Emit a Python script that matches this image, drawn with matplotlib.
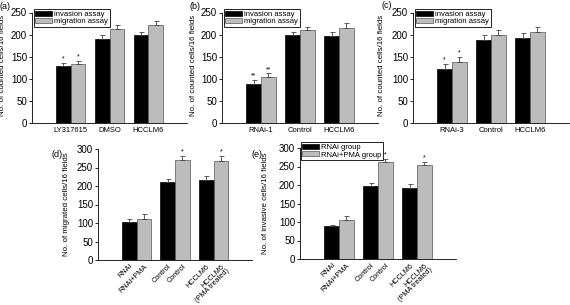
import numpy as np
import matplotlib
matplotlib.use("Agg")
import matplotlib.pyplot as plt

plt.rcParams['font.family'] = ['Liberation Sans', 'DejaVu Sans']
plt.rcParams['font.size'] = 5.5

# (a)-(c): invasion / migration assays
groups_a = ["LY317615", "DMSO", "HCCLM6"]
a_inv = [128, 191, 198]
a_inv_err = [7, 9, 8]
a_mig = [133, 212, 221]
a_mig_err = [7, 10, 9]

groups_b = ["RNAi-1", "Control", "HCCLM6"]
b_inv = [89, 198, 197]
b_inv_err = [9, 9, 9]
b_mig = [104, 210, 216]
b_mig_err = [8, 8, 10]

groups_c = ["RNAi-3", "Control", "HCCLM6"]
c_inv = [123, 188, 193]
c_inv_err = [10, 12, 10]
c_mig = [138, 200, 207]
c_mig_err = [12, 11, 11]

# (d)-(e): RNAi group vs RNAi+PMA group
labels_de = ["RNAi", "RNAi+PMA", "Control", "Control", "HCCLM6", "HCCLM6\n(PMA treated)"]
d_rnai = [102, 210, 216]
d_rnai_err = [9, 8, 10]
d_pma = [111, 270, 268]
d_pma_err = [12, 12, 13]

e_rnai = [88, 196, 193]
e_rnai_err = [5, 10, 10]
e_pma = [105, 262, 255]
e_pma_err = [11, 8, 7]

BLACK = "black"
GRAY = "#bcbcbc"
W = 0.38

W_PX, H_PX = 570, 305
fig = plt.figure(figsize=(W_PX / 100, H_PX / 100), dpi=100)


def axes_px(l, r, t, b):
    return fig.add_axes([l / W_PX, 1 - b / H_PX, (r - l) / W_PX, (b - t) / H_PX])


def panel(ax, v1, e1, v2, e2, ymax, ylabel, stars1=None, stars2=None):
    x = np.arange(len(v1))
    ax.bar(x - W / 2, v1, W, color=BLACK, edgecolor="black", linewidth=0.5)
    ax.bar(x + W / 2, v2, W, color=GRAY, edgecolor="#555555", linewidth=0.5)
    ax.errorbar(x - W / 2, v1, yerr=[np.zeros(len(e1)), e1], fmt="none",
                ecolor="#444444", elinewidth=0.6, capsize=1.8, capthick=0.6)
    ax.errorbar(x + W / 2, v2, yerr=[np.zeros(len(e2)), e2], fmt="none",
                ecolor="#444444", elinewidth=0.6, capsize=1.8, capthick=0.6)
    for stars, xs, v, e in [(stars1, x - W / 2, v1, e1), (stars2, x + W / 2, v2, e2)]:
        if stars is None:
            continue
        for i, s in enumerate(stars):
            if s:
                ax.text(xs[i], v[i] + e[i] + 1, s, ha="center", va="bottom", fontsize=5)
    ax.set_xlim(-1, 3)
    ax.set_ylim(0, ymax)
    ax.set_yticks(np.arange(0, ymax + 1, 50))
    ax.spines["top"].set_visible(False)
    ax.spines["right"].set_visible(False)
    ax.spines["left"].set_linewidth(0.6)
    ax.spines["bottom"].set_linewidth(0.6)
    ax.tick_params(axis="y", length=2, width=0.6, pad=1.5, labelsize=7)
    ax.tick_params(axis="x", length=0, pad=3, labelsize=5.5)
    ax.set_ylabel(ylabel, fontsize=5.7)
    return x


def legend(ax, names, anchor):
    ax.legend(names, loc="upper left", bbox_to_anchor=anchor, fontsize=5.5,
              frameon=True, fancybox=False, edgecolor="black", framealpha=1,
              handlelength=2.2, handleheight=0.6, borderpad=0.2, labelspacing=0.05,
              handletextpad=0.3, borderaxespad=0).get_frame().set_linewidth(0.6)


ylab1 = "No. of counted cells/16 fields"

ax = axes_px(32, 187, 12.5, 123)
x = panel(ax, a_inv, a_inv_err, a_mig, a_mig_err, 250, ylab1, ["*", "", ""], ["*", "", ""])
ax.set_xticks(x, groups_a)
ax.yaxis.set_label_coords(-0.17, 0.52)
legend(ax, ["invasion assay", "migration assay"], (0.01, 1.03))

ax = axes_px(222, 378, 12.5, 123)
x = panel(ax, b_inv, b_inv_err, b_mig, b_mig_err, 250, ylab1, ["**", "", ""], ["**", "", ""])
ax.set_xticks(x, groups_b)
ax.yaxis.set_label_coords(-0.16, 0.52)
legend(ax, ["invasion assay", "migration assay"], (0.01, 1.03))

ax = axes_px(413, 569, 12.5, 123)
x = panel(ax, c_inv, c_inv_err, c_mig, c_mig_err, 250, ylab1, ["*", "", ""], ["*", "", ""])
ax.set_xticks(x, groups_c)
ax.yaxis.set_label_coords(-0.18, 0.52)
legend(ax, ["invasion assay", "migration assay"], (0.01, 1.03))

ax = axes_px(98, 252, 149, 260)
x = panel(ax, d_rnai, d_rnai_err, d_pma, d_pma_err, 300,
          "No. of migrated cells/16 fields", None, ["", "*", "*"])
pos = np.ravel(np.column_stack([x - W / 2, x + W / 2]))
ax.set_xticks(pos, labels_de, rotation=45, ha="right", rotation_mode="anchor",
              fontsize=5.2, linespacing=0.9)
ax.tick_params(axis="x", pad=2)
ax.yaxis.set_label_coords(-0.18, 0.5)

ax = axes_px(300, 456, 148, 259)
x = panel(ax, e_rnai, e_rnai_err, e_pma, e_pma_err, 300,
          "No. of invasive cells/16 fields", None, ["", "*", "*"])
ax.set_xticks(pos, labels_de, rotation=45, ha="right", rotation_mode="anchor",
              fontsize=5.2, linespacing=0.9)
ax.tick_params(axis="x", pad=2)
ax.yaxis.set_label_coords(-0.2, 0.5)
legend(ax, ["RNAi group", "RNAi+PMA group"], (0.005, 1.05))

# panel letters
for lbl, px, py in [("(a)", 0, 2), ("(b)", 190, 2), ("(c)", 382, 1),
                    ("(d)", 52, 150), ("(e)", 252, 150)]:
    fig.text(px / W_PX, 1 - py / H_PX, lbl, ha="left", va="top", fontsize=6.5)

fig.savefig("out.png", dpi=100)
